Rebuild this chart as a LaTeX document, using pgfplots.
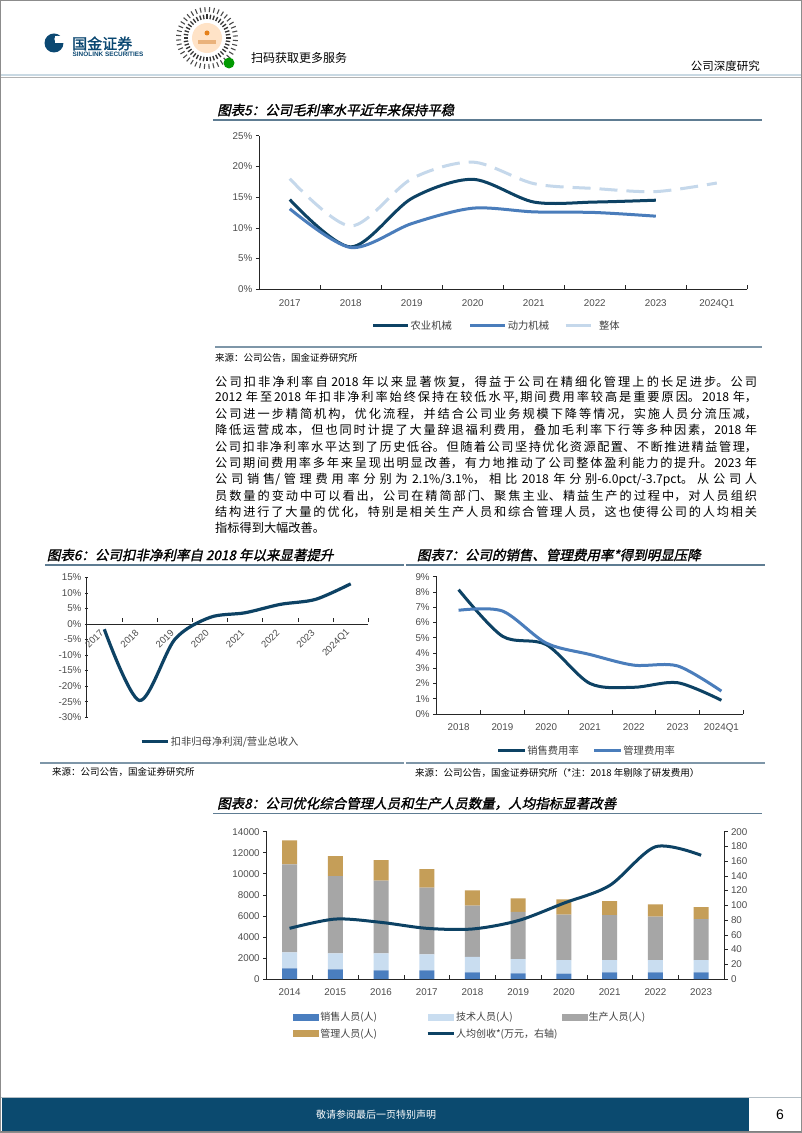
\documentclass[border=0pt]{standalone}
\usepackage{fontspec}
\usepackage{pgfplots}
\usepackage{pgfplotstable}
\pgfplotsset{compat=1.18}
\setmainfont{Liberation Sans}
\newfontfamily\cjk{Noto Sans CJK SC}
\newfontfamily\cjkti[FakeSlant=0.22,FakeBold=1.5]{Noto Sans CJK SC}
\newfontfamily\cjkbold[FakeBold=1.5]{Noto Sans CJK SC}
\XeTeXlinebreaklocale "zh"
\XeTeXlinebreakskip=0pt plus 3pt

\definecolor{navy}{HTML}{0D4264}
\definecolor{midblue}{HTML}{4A7DBB}
\definecolor{lightdash}{HTML}{C5D8EB}
\definecolor{barsales}{HTML}{4A7EBF}
\definecolor{bartech}{HTML}{C9DDF0}
\definecolor{barprod}{HTML}{A6A6A6}
\definecolor{barmgmt}{HTML}{C59E58}
\definecolor{rulec}{HTML}{5E7C92}
\definecolor{footc}{HTML}{0B4A6F}
\definecolor{logoc}{HTML}{0B4872}
\definecolor{hdrline}{HTML}{C9D9E3}

\pgfplotstableread{
x agr pow tot
0 14.6 13.1 18.0
1 6.9 6.8 10.3
2 14.8 10.7 18.0
3 17.9 13.2 20.7
4 14.2 12.6 17.2
5 14.2 12.5 16.4
6 14.5 11.9 15.9
7 nan nan 17.3
}\tgross

\pgfplotstableread{
x np
0 -1.7
1 -24.6
2 -5.0
3 2.1
4 3.6
5 6.3
6 7.9
7 12.9
}\tnet

\pgfplotstableread{
x sell adm
0 8.15 6.80
1 5.10 6.75
2 4.55 4.65
3 2.00 3.90
4 1.75 3.20
5 2.05 3.15
6 0.90 1.50
}\texp

\pgfplotstableread{
x sales tech prod mgmt per
0 1014 1520 8362 2281 68.8
1 919 1520 7349 1901 81.4
2 824 1615 6905 1964 76.9
3 824 1520 6335 1774 68.8
4 638 1467 4879 1435 67.9
5 542 1339 4499 1275 79.3
6 510 1276 4338 1434 103.0
7 633 1172 4277 1330 127.0
8 633 1172 4118 1172 179.5
9 633 1172 3896 1141 168.0
}\tstaff

\pgfplotsset{
  rep/.style={
    scale only axis,
    axis line style={-, black!85, line width=0.7pt},
    tick style={black!85, line width=0.6pt},
    major tick length=3.5pt,
    minor tick length=4pt,
    tick align=outside,
    minor x tick style={yshift=4pt},
    ticklabel style={font=\fontsize{9.8}{11}\selectfont, text=black!70},
    /pgf/number format/assume math mode=true,
    /pgf/number format/1000 sep={},
    scaled ticks=false,
    major x tick style={draw=none},
    xticklabel style={yshift=-3pt},
    clip=false,
    legend cell align=left,
    legend style={draw=none, fill=none, inner sep=0pt, outer sep=0pt,
      nodes={inner sep=1pt, anchor=west},
      font=\fontsize{10.3}{12}\selectfont\cjk, text=black!75},
  },
  pcty/.style={yticklabel={\pgfmathprintnumber{\tick}\%}},
  linelegend/.style={legend image code/.code={\draw[##1] (0pt,0pt)--(#1,0pt);}},
  dashlegend/.style={legend image code/.code={\draw[##1,solid] (0pt,0pt)--(25pt,0pt); \path (31pt,0pt);}},
  barlegend/.style={legend image code/.code={\fill[##1] (0pt,-3.5pt) rectangle (26pt,3.5pt);}},
}

\newcommand\bodyl[2]{\node[anchor=west, inner sep=0pt] at (215,{1133-#1}) {\fontsize{12.2}{14}\selectfont\cjk\parbox{542pt}{\parfillskip=0pt\parindent=0pt #2}};}

\begin{document}
\begin{tikzpicture}[x=1pt,y=1pt]
\fill[white] (0,0) rectangle (802,1133);
\useasboundingbox (0,0) rectangle (802,1133);
\draw[black!45, line width=0.8pt] (0.4,0.4) rectangle (801.6,1132.6);

% ---------- header ----------
\fill[logoc] (54,1090) circle (9.5);
\fill[white] (57.5,1094) circle (3.2);
\fill[white] (55,1090) rectangle (64,1097);
\node[anchor=west, inner sep=0pt, text=logoc] at (72,1089.5) {\fontsize{15}{16}\selectfont\cjkbold 国金证券};
\node[anchor=west, inner sep=0pt, text=logoc] at (72.5,1078.5) {\fontsize{6.4}{7}\selectfont\bfseries SINOLINK SECURITIES};
\begin{scope}[shift={(207,1095)}]
  \foreach \a in {0,9,...,351} {\draw[black!80, line width=1.3pt] (\a:19) -- (\a:23.5);}
  \foreach \a in {4,13,...,355} {\draw[black!70, line width=1.1pt] (\a:26) -- (\a:31);}
  \fill[orange!22!white] (0,0) circle (15);
  \fill[orange!45!brown!60] (-9,-6) rectangle (9,-2);
  \fill[orange!60!brown] (0,5) circle (2.5);
\end{scope}
\fill[green!60!black] (229,1070) circle (5.5);
\node[anchor=west, inner sep=0pt] at (251,1075) {\fontsize{12}{13}\selectfont\cjk 扫码获取更多服务};
\node[anchor=east, inner sep=0pt] at (760,1067) {\fontsize{11.5}{13}\selectfont\cjk 公司深度研究};
\draw[hdrline, line width=2pt] (1,1057.5) -- (801,1057.5);
\draw[black!30, line width=0.5pt] (1,1056) -- (801,1056);

% ---------- footer ----------
\draw[hdrline!70!gray, line width=1pt] (1,35.3) -- (801,35.3);
\fill[footc] (2,2.3) rectangle (749,34.7);
\draw[black!50, line width=0.8pt] (1,1.8) -- (801,1.8);
\node[text=white, inner sep=0pt] at (376,18.5) {\fontsize{10}{11}\selectfont\cjk 敬请参阅最后一页特别声明};
\node[inner sep=0pt] at (780,18.5) {\fontsize{14}{15}\selectfont 6};

% ---------- chart 5 ----------
\node[anchor=west, inner sep=0pt] at (217,1023) {\fontsize{13.5}{15}\selectfont\cjkti 图表5：公司毛利率水平近年来保持平稳};
\draw[rulec, line width=1.3pt] (213,1013) -- (762,1013);
\draw[rulec!80, line width=1.8pt] (215,785.7) -- (762,785.7);
\node[anchor=west, inner sep=0pt] at (215,775.5) {\fontsize{9.5}{11}\selectfont\cjk 来源：公司公告，国金证券研究所};

\begin{axis}[rep, pcty, at={(259.3pt,843.7pt)}, anchor=south west, width=488pt, height=153.6pt,
  axis x line*=bottom, axis y line*=left,
  xmin=-0.5, xmax=7.5, ymin=0, ymax=25,
  xtick={0,...,7}, xticklabels={2017,2018,2019,2020,2021,2022,2023,2024Q1},
  minor xtick={0.5,1.5,...,7.5}, ytick={0,5,...,25},
  legend columns=3,
  legend style={at={(0.2303,-0.237)}, anchor=west,
     /tikz/column 2/.style={column sep=16pt}, /tikz/column 4/.style={column sep=14pt}},
]
\addplot[navy, line width=3pt, smooth, linelegend=35pt] table[x=x,y=agr]{\tgross};
\addlegendentry{农业机械}
\addplot[midblue, line width=3pt, smooth, linelegend=35pt] table[x=x,y=pow]{\tgross};
\addlegendentry{动力机械}
\addplot[lightdash, line width=3pt, smooth, dash pattern=on 18pt off 9pt, dashlegend] table[x=x,y=tot]{\tgross};
\addlegendentry{整体}
\end{axis}

% ---------- body text ----------
\bodyl{381.5}{公司扣非净利率自 2018 年以来显著恢复，得益于公司在精细化管理上的长足进步。公司}
\bodyl{397.8}{2012 年至2018 年扣非净利率始终保持在较低水平,期间费用率较高是重要原因。2018 年，}
\bodyl{414.1}{公司进一步精简机构，优化流程，并结合公司业务规模下降等情况，实施人员分流压减，}
\bodyl{430.4}{降低运营成本，但也同时计提了大量辞退福利费用，叠加毛利率下行等多种因素，2018 年}
\bodyl{446.7}{公司扣非净利率水平达到了历史低谷。但随着公司坚持优化资源配置、不断推进精益管理，}
\bodyl{463.0}{公司期间费用率多年来呈现出明显改善，有力地推动了公司整体盈利能力的提升。2023 年}
\bodyl{479.3}{公司销售/管理费用率分别为 \mbox{2.1\%/3.1\%}，相比 2018 年分别\mbox{-6.0pct/-3.7pct}。从公司人}
\bodyl{495.6}{员数量的变动中可以看出，公司在精简部门、聚焦主业、精益生产的过程中，对人员组织}
\bodyl{511.9}{结构进行了大量的优化，特别是相关生产人员和综合管理人员，这也使得公司的人均相关}
\node[anchor=west, inner sep=0pt] at (215,604.8) {\fontsize{12.2}{14}\selectfont\cjk 指标得到大幅改善。};

% ---------- chart 6 ----------
\node[anchor=west, inner sep=0pt] at (46.7,578) {\fontsize{13.5}{15}\selectfont\cjkti 图表6：公司扣非净利率自 2018 年以来显著提升};
\draw[rulec, line width=1.3pt] (45,568) -- (404,568);
\draw[rulec!80, line width=1.8pt] (40,370.3) -- (404,370.3);
\node[anchor=west, inner sep=0pt] at (52,361.3) {\fontsize{9.5}{11}\selectfont\cjk 来源：公司公告，国金证券研究所};

\begin{axis}[rep, pcty, at={(86.7pt,415.7pt)}, anchor=south west, width=281.6pt, height=140pt,
  axis x line=middle, axis y line=left, x axis line style={-}, y axis line style={-},
  hide obscured x ticks=false, hide obscured y ticks=false,
  xmin=-0.5, xmax=7.5, ymin=-30, ymax=15,
  xtick={0,...,7}, xticklabels={2017,2018,2019,2020,2021,2022,2023,2024Q1},
  minor xtick={0.5,1.5,...,7.5}, ytick={-30,-25,...,15},
  xticklabel style={rotate=45, anchor=east, yshift=0pt, font=\fontsize{9.5}{11}\selectfont},
  legend style={at={(0.189,-0.174)}, anchor=west},
]
\addplot[navy, line width=3.2pt, smooth, linelegend=26.7pt] table[x=x,y=np]{\tnet};
\addlegendentry{扣非归母净利润/营业总收入}
\end{axis}

% ---------- chart 7 ----------
\node[anchor=west, inner sep=0pt] at (416.7,578) {\fontsize{13.5}{15}\selectfont\cjkti 图表7：公司的销售、管理费用率*得到明显压降};
\draw[rulec, line width=1.3pt] (406,568) -- (765,568);
\draw[rulec!80, line width=1.8pt] (406,370.3) -- (765,370.3);
\node[anchor=west, inner sep=0pt] at (415,359.7) {\fontsize{9.5}{11}\selectfont\cjk 来源：公司公告，国金证券研究所（*注：2018 年剔除了研发费用）};

\begin{axis}[rep, pcty, at={(436.7pt,419pt)}, anchor=south west, width=306.6pt, height=137.3pt,
  axis x line*=bottom, axis y line*=left,
  xmin=-0.5, xmax=6.5, ymin=0, ymax=9,
  xtick={0,...,6}, xticklabels={2018,2019,2020,2021,2022,2023,2024Q1},
  minor xtick={0.5,1.5,...,6.5}, ytick={0,1,...,9},
  legend columns=2,
  legend style={at={(0.1957,-0.267)}, anchor=west, /tikz/column 2/.style={column sep=13pt}},
]
\addplot[navy, line width=3pt, smooth, linelegend=26.6pt] table[x=x,y=sell]{\texp};
\addlegendentry{销售费用率}
\addplot[midblue, line width=3pt, smooth, linelegend=26.6pt] table[x=x,y=adm]{\texp};
\addlegendentry{管理费用率}
\end{axis}

% ---------- chart 8 ----------
\node[anchor=west, inner sep=0pt] at (217,329.5) {\fontsize{13.5}{15}\selectfont\cjkti 图表8：公司优化综合管理人员和生产人员数量，人均指标显著改善};
\draw[rulec, line width=1.3pt] (213,319.7) -- (762,319.7);

\begin{axis}[rep, at={(266.7pt,154pt)}, anchor=south west, width=457.3pt, height=147.3pt,
  axis x line*=bottom, axis y line*=left,
  xmin=-0.5, xmax=9.5, ymin=0, ymax=14000,
  xtick={0,...,9}, xticklabels={2014,2015,2016,2017,2018,2019,2020,2021,2022,2023},
  minor xtick={0.5,1.5,...,9.5}, ytick={0,2000,...,14000},
  ybar stacked, bar width=15pt,
  legend columns=3,
  legend style={at={(0.0582,-0.3157)}, anchor=west, font=\fontsize{10}{12}\selectfont\cjk,
    /tikz/column 2/.style={column sep=48pt}, /tikz/column 4/.style={column sep=3pt}, /tikz/row sep=5pt},
]
\addplot[fill=barsales, draw=none, barlegend] table[x=x,y=sales]{\tstaff};
\addlegendentry{销售人员(人)}
\addplot[fill=bartech, draw=none, barlegend] table[x=x,y=tech]{\tstaff};
\addlegendentry{技术人员(人)}
\addplot[fill=barprod, draw=none, barlegend] table[x=x,y=prod]{\tstaff};
\addlegendentry{生产人员(人)}
\addplot[fill=barmgmt, draw=none, barlegend] table[x=x,y=mgmt]{\tstaff};
\addlegendentry{管理人员(人)}
\addlegendimage{navy, line width=3pt, linelegend=26pt}
\addlegendentry{人均创收*(万元，右轴)}
\end{axis}

\begin{axis}[rep, at={(266.7pt,154pt)}, anchor=south west, width=457.3pt, height=147.3pt,
  axis y line*=right, axis x line=none,
  xmin=-0.5, xmax=9.5, ymin=0, ymax=200, ytick={0,20,...,200},
]
\addplot[navy, line width=3pt, smooth] table[x=x,y=per]{\tstaff};
\end{axis}
\end{tikzpicture}
\end{document}
